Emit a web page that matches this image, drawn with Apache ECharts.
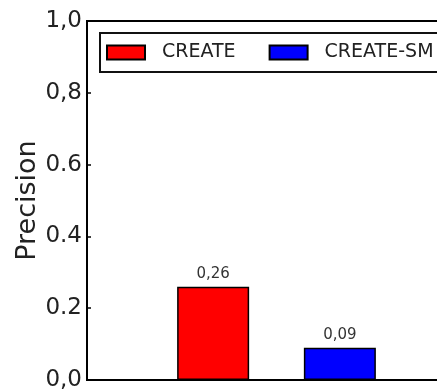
<!DOCTYPE html>
<html>
<head>
<meta charset="utf-8">
<script src="https://cdn.jsdelivr.net/npm/echarts@6/dist/echarts.min.js"></script>
<style>
  html, body { margin: 0; padding: 0; background: #fff; }
  #chart { width: 437px; height: 391px; }
</style>
</head>
<body>
<div id="chart"></div>
<script>
// Precision of each method (single group)
const groups = ['precision'];
const seriesNames = ['CREATE', 'CREATE-SM'];
const createValues = [0.26];
const createSmValues = [0.09];
const seriesColors = ['#ff0000', '#0000ff'];
const yTickLabels = ['0,0', '0.2', '0.4', '0.6', '0,8', '1,0'];

const FONT = 'DejaVu Sans';
const chart = echarts.init(document.getElementById('chart'), null, { renderer: 'canvas' });

function barSeries(name, values, color) {
  return {
    name: name,
    type: 'bar',
    data: values,
    barWidth: 72,
    barGap: '76%',
    itemStyle: { color: color, borderColor: '#000', borderWidth: 1.5 },
    label: {
      show: true,
      position: 'top',
      distance: 5,
      fontFamily: FONT,
      fontSize: 15,
      color: '#333',
      formatter: p => p.value.toFixed(2).replace('.', ',')
    }
  };
}

chart.setOption({
  animation: false,
  backgroundColor: '#fff',
  grid: {
    left: 87, top: 21, width: 379, height: 359,
    outerBoundsMode: 'none',
    containLabel: false,
    show: true, borderColor: '#000', borderWidth: 2, backgroundColor: 'transparent'
  },
  legend: {
    data: seriesNames,
    left: 100, top: 33, width: 440,
    orient: 'horizontal',
    itemWidth: 38, itemHeight: 14, itemGap: 33,
    padding: [10, 60, 10, 6],
    borderColor: '#111', borderWidth: 2,
    icon: 'rect',
    textStyle: { fontFamily: FONT, fontSize: 19, color: '#222', padding: [0, 0, 0, 12] }
  },
  xAxis: {
    type: 'category',
    data: groups,
    axisLine: { show: false },
    axisTick: { show: false },
    axisLabel: { show: false },
    splitLine: { show: false }
  },
  yAxis: {
    type: 'value',
    min: 0, max: 1, interval: 0.2,
    name: 'Precision',
    nameLocation: 'middle',
    nameGap: 46,
    nameMoveOverlap: false,
    nameTextStyle: { fontFamily: FONT, fontSize: 27, color: '#222' },
    axisLine: { show: true, lineStyle: { color: '#000', width: 2 } },
    axisTick: { show: true, inside: true, length: 4, lineStyle: { color: '#000', width: 1.5 } },
    axisLabel: {
      fontFamily: FONT, fontSize: 23, color: '#222', margin: 5,
      formatter: (v) => yTickLabels[Math.round(v / 0.2)]
    },
    splitLine: { show: false }
  },
  series: [
    barSeries(seriesNames[0], createValues, seriesColors[0]),
    barSeries(seriesNames[1], createSmValues, seriesColors[1])
  ]
});
</script>
</body>
</html>
